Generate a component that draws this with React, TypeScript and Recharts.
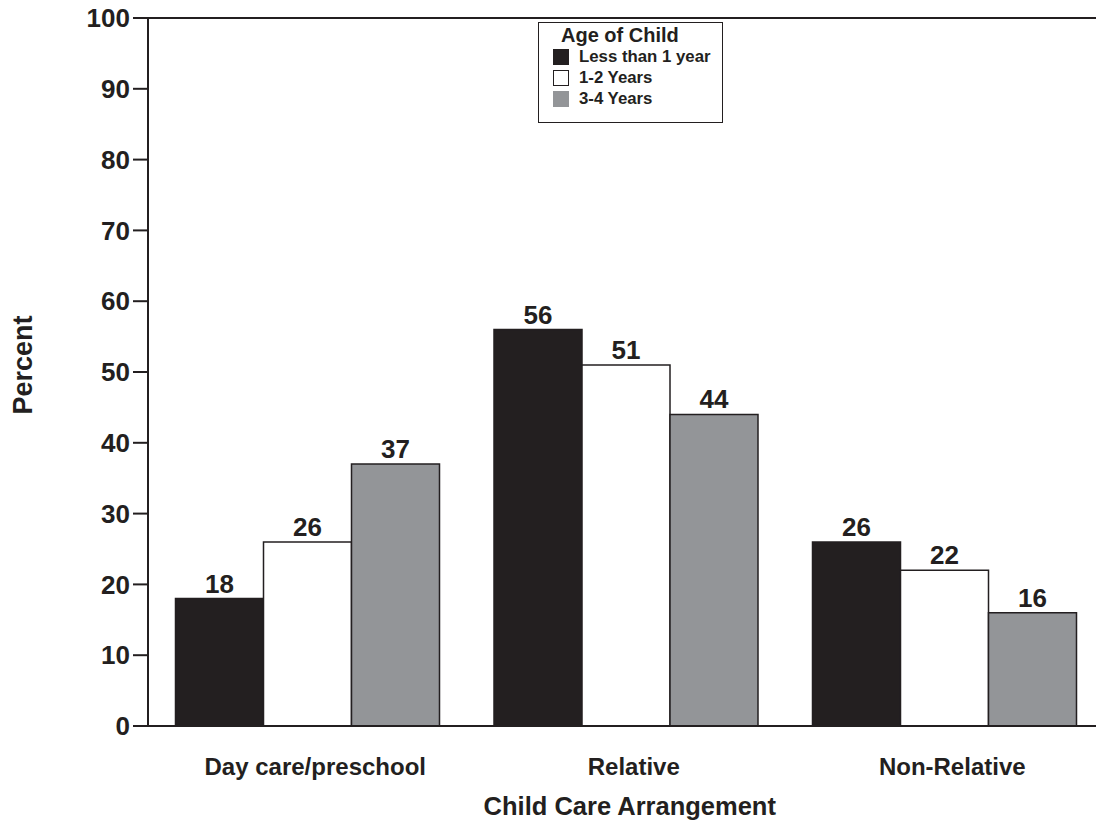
import React from 'react';
import { BarChart, Bar, XAxis, YAxis, LabelList, ReferenceLine } from 'recharts';

const categories = ['Day care/preschool', 'Relative', 'Non-Relative'];
const lessThan1 = [18, 56, 26];
const oneToTwo = [26, 51, 22];
const threeToFour = [37, 44, 16];
const yTicks = [0, 10, 20, 30, 40, 50, 60, 70, 80, 90, 100];

const series = [
  { key: 'lt1', name: 'Less than 1 year', fill: '#231f20' },
  { key: 'y12', name: '1-2 Years', fill: '#ffffff' },
  { key: 'y34', name: '3-4 Years', fill: '#939598' },
];

const data = categories.map((c, i) => ({
  category: c,
  lt1: lessThan1[i],
  y12: oneToTwo[i],
  y34: threeToFour[i],
}));

const ink = '#231f20';
const font = 'Arial, "Liberation Sans", Helvetica, sans-serif';

// legend drawn as an overlay so it does not take space from the plot
const LegendBox = () => (
  <div
    style={{
      position: 'absolute',
      left: 538,
      top: 22,
      width: 185,
      height: 101,
      border: `1.5px solid ${ink}`,
      background: '#fff',
      fontFamily: font,
      fontWeight: 'bold',
      color: ink,
      boxSizing: 'border-box',
      padding: '1px 0 0 14px',
    }}
  >
    <div style={{ fontSize: 20, marginLeft: 8, lineHeight: '22px' }}>Age of Child</div>
    {series.map((s) => (
      <div key={s.key} style={{ display: 'flex', alignItems: 'center', height: 21 }}>
        <span
          style={{
            display: 'inline-block',
            width: 16,
            height: 16,
            background: s.fill,
            border: s.fill === '#ffffff' ? `1.5px solid ${ink}` : 'none',
            boxSizing: 'border-box',
            marginRight: 10,
          }}
        />
        <span style={{ fontSize: 16.8 }}>{s.name}</span>
      </div>
    ))}
  </div>
);

const PercentLabel = () => (
  <text
    x={23}
    y={365}
    transform="rotate(-90 23 365)"
    textAnchor="middle"
    dominantBaseline="central"
    fontFamily={font}
    fontWeight="bold"
    fontSize={27}
    fill={ink}
  >
    Percent
  </text>
);

export default function App() {
  return (
    <div style={{ position: 'absolute', left: 0, top: 0, width: 1096, height: 821, overflow: 'hidden' }}>
      <BarChart
        width={1110}
        height={821}
        data={data}
        margin={{ top: 18, right: 6.5, bottom: 0, left: 0 }}
        barCategoryGap={27.5}
        barGap={0}
      >
        <XAxis
          dataKey="category"
          axisLine={{ stroke: ink, strokeWidth: 2 }}
          tickLine={false}
          tickSize={0}
          tickMargin={32}
          height={95}
          tick={{ fill: ink, fontFamily: font, fontWeight: 'bold', fontSize: 24, dx: 8 }}
          label={{
            value: 'Child Care Arrangement',
            position: 'insideBottom',
            offset: 6,
            dx: 4,
            fill: ink,
            fontFamily: font,
            fontWeight: 'bold',
            fontSize: 25.5,
          }}
        />
        <YAxis
          domain={[0, 100]}
          ticks={yTicks}
          interval={0}
          width={148}
          tickSize={15}
          tickMargin={3}
          axisLine={{ stroke: ink, strokeWidth: 2 }}
          tickLine={{ stroke: ink, strokeWidth: 2 }}
          tick={{ fill: ink, fontFamily: font, fontWeight: 'bold', fontSize: 26 }}
          label={{ content: () => <PercentLabel /> }}
        />
        <ReferenceLine y={100} stroke={ink} strokeWidth={2} />
        {series.map((s) => (
          <Bar
            key={s.key}
            dataKey={s.key}
            name={s.name}
            fill={s.fill}
            stroke={ink}
            strokeWidth={1.5}
            isAnimationActive={false}
          >
            <LabelList
              dataKey={s.key}
              position="top"
              offset={6}
              fill={ink}
              fontFamily={font}
              fontWeight="bold"
              fontSize={26}
            />
          </Bar>
        ))}
      </BarChart>
      <LegendBox />
    </div>
  );
}
